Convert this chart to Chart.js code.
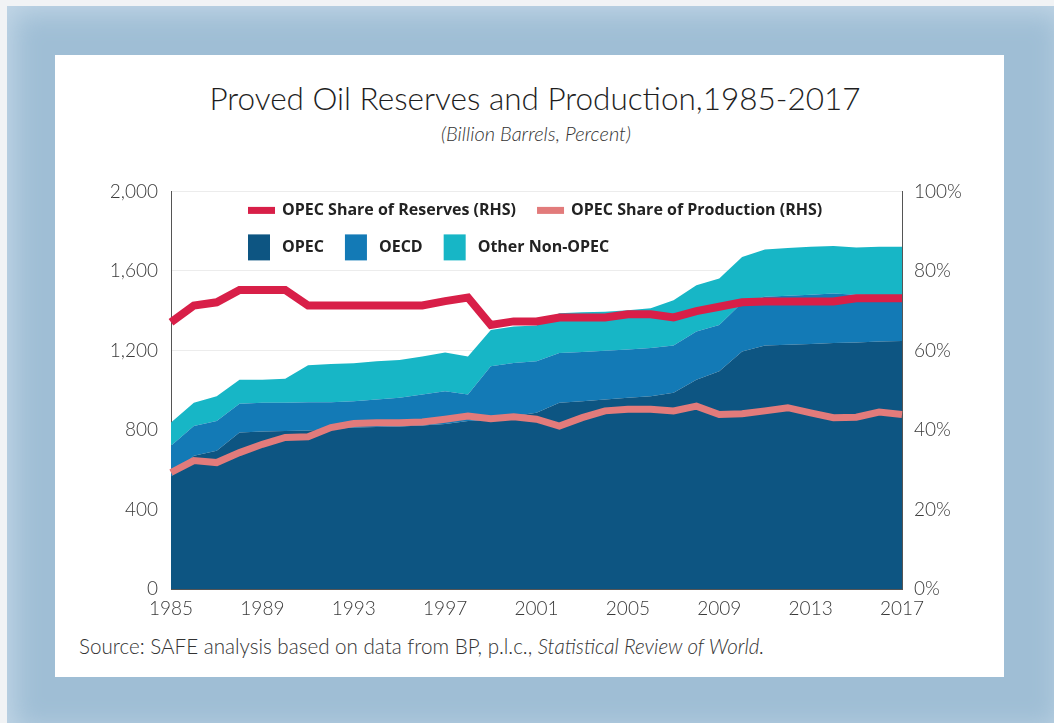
<!DOCTYPE html>
<html>
<head>
<meta charset="utf-8">
<script src="https://cdn.jsdelivr.net/npm/chart.js@4"></script>
<style>
  html, body { margin: 0; padding: 0; }
  body { width: 1054px; height: 723px; background: #f1f3f5; position: relative; overflow: hidden; font-family: Lato, "Open Sans", sans-serif; }
  .frame { position: absolute; left: 7px; top: 6px; width: 1060px; height: 730px; background: #9fbed5; box-shadow: inset 0 0 28px 6px #c3d7e7; }
  .panel { position: absolute; left: 55px; top: 55px; width: 949px; height: 622px; background: #fff; }
  .title { position: absolute; left: 0; width: 1070px; top: 79px; text-align: center; font-size: 31.5px; font-weight: 300; color: #1e1e1e; }
  .subtitle { position: absolute; left: 0; width: 1072px; top: 121px; text-align: center; font-size: 20px; font-weight: 300; font-style: italic; color: #333; }
  .source { position: absolute; left: 79px; top: 634px; font-size: 20.6px; font-weight: 300; color: #333; }
  #chartWrap { position: absolute; left: 55px; top: 167px; width: 949px; height: 458px; }
</style>
</head>
<body>
<div class="frame"></div>
<div class="panel"></div>
<div class="title">Proved Oil Reserves and Production,1985-2017</div>
<div class="subtitle">(Billion Barrels, Percent)</div>
<div class="source">Source: SAFE analysis based on data from BP, p.l.c., <i>Statistical Review of World.</i></div>
<div id="chartWrap"><canvas id="oilChart"></canvas></div>

<script>
// years on the x axis
const years = ['1985', '1986', '1987', '1988', '1989', '1990', '1991', '1992', '1993', '1994', '1995',
    '1996', '1997', '1998', '1999', '2000', '2001', '2002', '2003', '2004', '2005', '2006',
    '2007', '2008', '2009', '2010', '2011', '2012', '2013', '2014', '2015', '2016', '2017'];

// proved reserves, billion barrels (stacked)
const opec = [565, 670, 695, 787, 792, 795, 797, 805, 812, 815, 818, 822, 830, 845, 850, 870, 887,
    937, 945, 953, 962, 970, 987, 1053, 1095, 1195, 1225, 1228, 1232, 1237, 1240, 1245, 1248];
const oecd = [155, 150, 150, 145, 145, 142, 143, 135, 133, 138, 144, 156, 165, 133, 270, 267, 258,
    250, 247, 245, 243, 242, 238, 242, 233, 245, 245, 247, 248, 250, 240, 233, 230];
const otherNonOpec = [117, 117, 125, 121, 116, 121, 185, 192, 190, 192, 190, 192, 195, 192, 183, 183, 180,
    200, 200, 197, 197, 200, 228, 233, 234, 230, 238, 240, 242, 238, 238, 244, 244];

// OPEC shares, percent (right axis)
const reservesShare = [67.1, 71.3, 72.1, 75.2, 75.2, 75.2, 71.3, 71.3, 71.3, 71.3, 71.3, 71.3, 72.4, 73.3, 66.4, 67.3, 67.3,
    68.3, 68.3, 68.3, 69.1, 69.1, 68.3, 69.9, 71.0, 72.1, 72.3, 72.3, 72.3, 72.3, 73.1, 73.1, 73.1];
const productionShare = [29.3, 32.3, 31.8, 34.3, 36.4, 38.1, 38.3, 40.6, 41.6, 41.8, 41.8, 42.0, 42.7, 43.5, 42.8, 43.3, 42.7,
    41.0, 43.1, 44.8, 45.2, 45.2, 44.8, 46.0, 43.9, 44.1, 44.8, 45.6, 44.3, 43.1, 43.2, 44.5, 43.9];

// tick labels
const leftTicks = [0, 400, 800, 1200, 1600, 2000];
const rightTicks = [0, 20, 40, 60, 80, 100];
const yearTicks = ['1985', '1989', '1993', '1997', '2001', '2005', '2009', '2013', '2017'];

const tickFont = { family: 'Lato', size: 19, weight: 300 };
const tickColor = '#3a3a3a';

// legend drawn inside the plot area, two rows
const insideLegend = {
    id: 'insideLegend',
    afterDraw(chart) {
        const ctx = chart.ctx;
        const area = chart.chartArea;
        const ds = chart.data.datasets;
        const rows = [
            { y: area.top + 19, items: [3, 4] },
            { y: area.top + 56, items: [0, 1, 2] }
        ];
        ctx.save();
        ctx.font = 'bold 16px "Open Sans"';
        ctx.textBaseline = 'middle';
        rows.forEach(row => {
            let x = area.left + 77;
            row.items.forEach(i => {
                const d = ds[i];
                if (d.type === 'line' && !d.fill) {
                    ctx.fillStyle = d.borderColor;
                    ctx.fillRect(x, row.y - 3.5, 27, 7);
                    x += 34;
                } else {
                    ctx.fillStyle = d.backgroundColor;
                    ctx.fillRect(x, row.y - 13, 22, 26);
                    x += 34;
                }
                ctx.fillStyle = '#222';
                ctx.fillText(d.label, x, row.y);
                x += ctx.measureText(d.label).width + 21;
            });
        });
        ctx.restore();
    }
};

const ctx = document.getElementById('oilChart').getContext('2d');
new Chart(ctx, {
    type: 'line',
    data: {
        labels: years,
        datasets: [
            { label: 'OPEC', data: opec, yAxisID: 'y', fill: 'origin', order: 1,
              backgroundColor: '#0d5582', borderColor: '#0d5582', borderWidth: 0, pointRadius: 0, tension: 0 },
            { label: 'OECD', data: oecd, yAxisID: 'y', fill: '-1', order: 1,
              backgroundColor: '#137ab6', borderColor: '#137ab6', borderWidth: 0, pointRadius: 0, tension: 0 },
            { label: 'Other Non-OPEC', data: otherNonOpec, yAxisID: 'y', fill: '-1', order: 1,
              backgroundColor: '#17b6c6', borderColor: '#17b6c6', borderWidth: 0, pointRadius: 0, tension: 0 },
            { type: 'line', label: 'OPEC Share of Reserves (RHS)', data: reservesShare, yAxisID: 'y1', fill: false, order: 0,
              borderColor: '#d81f48', backgroundColor: '#d81f48', borderWidth: 8, pointRadius: 0, tension: 0 },
            { type: 'line', label: 'OPEC Share of Production (RHS)', data: productionShare, yAxisID: 'y1', fill: false, order: 0,
              borderColor: '#e27b7b', backgroundColor: '#e27b7b', borderWidth: 7, pointRadius: 0, tension: 0 }
        ]
    },
    options: {
        responsive: true,
        maintainAspectRatio: false,
        animation: false,
        layout: { padding: { top: 6, left: 56, right: 32, bottom: 6 } },
        plugins: {
            legend: { display: false },
            tooltip: { enabled: false }
        },
        scales: {
            x: {
                grid: { display: false, drawTicks: false },
                border: { color: '#555', width: 1 },
                ticks: {
                    autoSkip: false,
                    maxRotation: 0,
                    padding: 8,
                    font: tickFont,
                    color: tickColor,
                    callback: function (v) {
                        const lbl = this.getLabelForValue(v);
                        return yearTicks.includes(lbl) ? lbl : null;
                    }
                },
                afterFit: s => { s.height = 30; }
            },
            y: {
                stacked: true,
                min: 0,
                max: 2000,
                position: 'left',
                grid: { color: '#ececec', drawTicks: false },
                border: { color: '#555', width: 1 },
                afterBuildTicks: s => { s.ticks = leftTicks.map(v => ({ value: v })); },
                ticks: {
                    padding: 13,
                    font: tickFont,
                    color: tickColor,
                    callback: v => v.toLocaleString('en-US')
                },
                afterFit: s => { s.width = 60; }
            },
            y1: {
                stacked: false,
                min: 0,
                max: 100,
                position: 'right',
                grid: { display: false, drawTicks: false },
                border: { color: '#555', width: 1 },
                afterBuildTicks: s => { s.ticks = rightTicks.map(v => ({ value: v })); },
                ticks: {
                    padding: 12,
                    font: tickFont,
                    color: tickColor,
                    callback: v => v + '%'
                },
                afterFit: s => { s.width = 70; }
            }
        }
    },
    plugins: [insideLegend]
});
</script>
</body>
</html>
